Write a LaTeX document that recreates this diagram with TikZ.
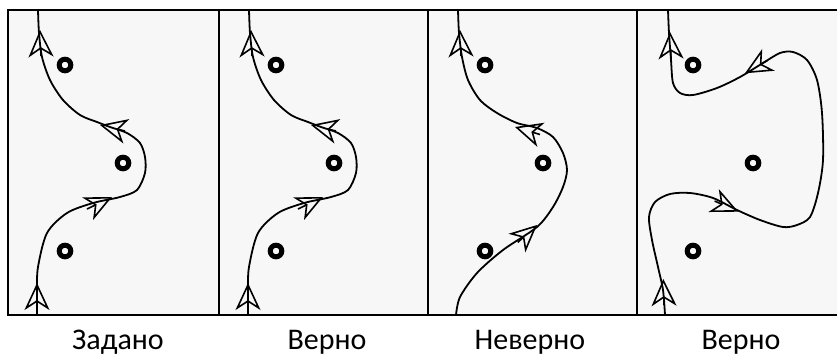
\documentclass[tikz,border=0pt]{standalone}
\usepackage{fontspec}
\setmainfont{Carlito}
\usepackage{tikz}
\usetikzlibrary{arrows.meta,positioning}

\tikzset{
  frame/.style={line width=1.6pt},
  track/.style={line width=1.8pt},
  ring/.style={circle, draw, line width=5pt, inner sep=0pt, minimum size=11.6pt},
  flowtip/.style={-{Stealth[open, length=27pt, width=25pt, inset=8pt]}, line width=1.6pt},
  caption/.style={font=\fontsize{30}{36}\selectfont, anchor=base}
}

\begin{document}
\begin{tikzpicture}[x=1pt, y=-1pt]
    \useasboundingbox (0,0) rectangle (837,356);
    \clip (0,0) rectangle (837,356);

    % the four panels
    \fill[black!3] (8,10) rectangle (847,315);
    \draw[frame] (8,10) rectangle (847,315);
    \draw[frame] (219,10) -- (219,315);
    \draw[frame] (428,10) -- (428,315);
    \draw[frame] (637,10) -- (637,315);

    % panel 1: the given path
    \node[ring] (r11) at (65,65) {};
    \node[ring] (r12) at (123,163) {};
    \node[ring] (r13) at (65,251) {};
    \draw[track] plot[smooth] coordinates {(37,315) (37,290) (38,267) (47,233) (67,213) (93,203) (120,197) (137,190) (145,173) (145,157) (140,143) (127,133) (110,127) (97,122) (80,115) (63,100) (50,80) (42,57) (39,33) (38,10)};
    \draw[flowtip] (37,309) -- (37,283);
    \draw[flowtip] (87,209) -- (112,197);
    \draw[flowtip] (125,131) -- (100,125);
    \draw[flowtip] (41,56) -- (40,30);

    % panel 2: same path, right
    \begin{scope}[xshift=211pt]
        \node[ring] (r21) at (65,65) {};
        \node[ring] (r22) at (123,163) {};
        \node[ring] (r23) at (65,251) {};
        \draw[track] plot[smooth] coordinates {(37,315) (37,290) (38,267) (47,233) (67,213) (93,203) (120,197) (137,190) (145,173) (145,157) (140,143) (127,133) (110,127) (97,122) (80,115) (63,100) (50,80) (42,57) (39,33) (38,10)};
        \draw[flowtip] (37,309) -- (37,283);
        \draw[flowtip] (87,209) -- (112,197);
        \draw[flowtip] (125,131) -- (100,125);
        \draw[flowtip] (41,56) -- (40,30);
    \end{scope}

    % panel 3: passes the lower point on the wrong side
    \begin{scope}[xshift=420pt]
        \node[ring] (r31) at (65,65) {};
        \node[ring] (r32) at (123,163) {};
        \node[ring] (r33) at (65,251) {};
        \draw[track] plot[smooth] coordinates {(36,315) (40,297) (57,273) (83,250) (117,227) (133,207) (143,187) (147,170) (143,153) (133,137) (117,128) (97,123) (77,113) (60,100) (48,80) (42,57) (39,33) (38,10)};
        \draw[flowtip] (97.7,242.4) -- (117,225);
        \draw[flowtip] (120,134.5) -- (95,127);
        \draw[flowtip] (41,56) -- (40,30);
    \end{scope}

    % panel 4: a long loop, still right
    \begin{scope}[xshift=629pt]
        \node[ring] (r41) at (64,65) {};
        \node[ring] (r42) at (124,163) {};
        \node[ring] (r43) at (64,251) {};
        \draw[track] plot[smooth] coordinates {(36,315) (34,290) (29,267) (23,240) (20,217) (26,202) (41,194) (61,193) (84,198) (108,210) (131,220) (154,227) (168,225) (181,217) (189,193) (194,160) (193,113) (188,80) (178,60) (164,52) (151,53) (134,63) (111,77) (88,88) (64,95) (51,93) (44,83) (42,60) (40,33) (39,10)};
        \draw[flowtip] (35,305) -- (34.3,279);
        \draw[flowtip] (85.6,201) -- (109.3,211.7);
        \draw[flowtip] (138.5,60.4) -- (116,73.3);
        \draw[flowtip] (42,58) -- (41,32);
    \end{scope}

    % captions
    \node[caption] (c1) at (118,349) {Задано};
    \node[caption] (c2) at (327,349) {Верно};
    \node[caption] (c3) at (530,349) {Неверно};
    \node[caption] (c4) at (741,349) {Верно};
\end{tikzpicture}
\end{document}
